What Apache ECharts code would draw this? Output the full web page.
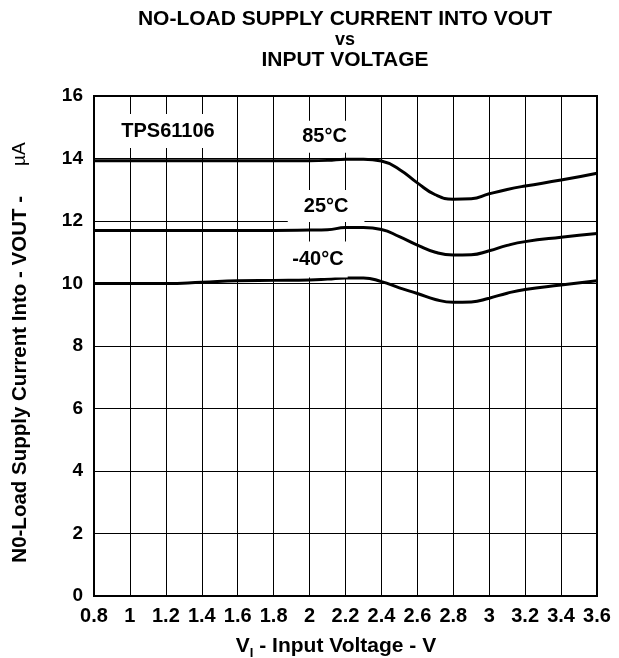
<!DOCTYPE html>
<html>
<head>
<meta charset="utf-8">
<script src="https://cdn.jsdelivr.net/npm/echarts@6/dist/echarts.min.js"></script>
<style>
html,body{margin:0;padding:0;background:#fff;}
#c{width:619px;height:658px;}
</style>
</head>
<body>
<div id="c"></div>
<script>
// Input voltage (V)
var inputVoltage = [0.8,1.0,1.2,1.4,1.6,1.8,2.0,2.1,2.2,2.3,2.4,2.5,2.6,2.7,2.8,2.9,3.0,3.1,3.2,3.4,3.6];
// Supply current (uA)
var current85C  = [13.93,13.93,13.93,13.93,13.93,13.93,13.93,13.94,13.98,13.98,13.92,13.65,13.22,12.84,12.70,12.71,12.87,13.01,13.12,13.31,13.53];
var current25C  = [11.70,11.70,11.70,11.70,11.70,11.70,11.71,11.72,11.79,11.79,11.73,11.50,11.23,11.00,10.91,10.92,11.05,11.22,11.34,11.48,11.60];
var currentM40C = [10.00,10.00,10.00,10.04,10.09,10.10,10.11,10.14,10.18,10.18,10.06,9.86,9.68,9.49,9.40,9.41,9.53,9.69,9.81,9.95,10.09];

var seriesNames = ['85°C','25°C','-40°C'];
var deviceName = 'TPS61106';
var titleLines = ['NO-LOAD SUPPLY CURRENT INTO VOUT','vs','INPUT VOLTAGE'];
var xAxisTitle = ['V','I',' - Input Voltage - V'];
var yAxisTitle = ['N0-Load Supply Current Into - VOUT -','µA'];

function pairs(ys){ return inputVoltage.map(function(x,i){return [x, ys[i]];}); }

var FONT = '"Liberation Sans", Arial, sans-serif';
var labelStyle = {show:true, position:'inside', color:'#000', fontFamily:FONT, fontWeight:'bold', fontSize:20, backgroundColor:'#fff'};

function lineSeries(name, data, mark){
  return {
    name:name, type:'line', data:pairs(data), smooth:0.5, symbol:'none',
    lineStyle:{color:'#000', width:3}, z:3,
    markPoint: mark ? {symbol:'rect', symbolSize:1, itemStyle:{color:'rgba(0,0,0,0)'}, data: mark, z:5} : undefined
  };
}

var chart = echarts.init(document.getElementById('c'), null, {renderer:'canvas'});
chart.setOption({
  animation:false,
  backgroundColor:'#fff',
  grid:{left:94, right:22, top:96, bottom:62, show:true, borderColor:'#000', borderWidth:2, backgroundColor:'transparent'},
  xAxis:{
    type:'value', min:0.8, max:3.6, interval:0.2,
    axisLine:{show:false}, axisTick:{show:false},
    splitLine:{show:true, lineStyle:{color:'#000', width:1}},
    axisLabel:{margin:10, color:'#000', fontFamily:FONT, fontWeight:'bold', fontSize:20,
      formatter:function(v){return String(+v.toFixed(1));}}
  },
  yAxis:{
    type:'value', min:0, max:16, interval:2,
    axisLine:{show:false}, axisTick:{show:false},
    splitLine:{show:true, lineStyle:{color:'#000', width:1}},
    axisLabel:{margin:11, color:'#000', fontFamily:FONT, fontWeight:'bold', fontSize:19}
  },
  graphic:[
    {type:'text', x:345, y:19, style:{text:titleLines[0], textAlign:'center', textVerticalAlign:'middle', font:'bold 21px '+FONT, fill:'#000'}},
    {type:'text', x:345, y:40, style:{text:titleLines[1], textAlign:'center', textVerticalAlign:'middle', font:'bold 18px '+FONT, fill:'#000'}},
    {type:'text', x:345, y:60, style:{text:titleLines[2], textAlign:'center', textVerticalAlign:'middle', font:'bold 21px '+FONT, fill:'#000'}},
    {type:'text', x:336, y:646, style:{
      text:'{v|'+xAxisTitle[0]+'}{s|'+xAxisTitle[1]+'}{t|'+xAxisTitle[2]+'}',
      textAlign:'center', textVerticalAlign:'middle',
      rich:{
        v:{fontFamily:FONT, fontWeight:'bold', fontSize:21, fill:'#000', color:'#000', lineHeight:28, verticalAlign:'middle'},
        s:{fontFamily:FONT, fontWeight:'bold', fontSize:13, fill:'#000', color:'#000', lineHeight:28, verticalAlign:'bottom'},
        t:{fontFamily:FONT, fontWeight:'bold', fontSize:21, fill:'#000', color:'#000', lineHeight:28, verticalAlign:'middle'}
      }}},
    {type:'text', x:20, y:352.5, rotation:Math.PI/2, style:{
      text:'{b|'+yAxisTitle[0]+'}{m|'+yAxisTitle[1]+'}',
      textAlign:'center', textVerticalAlign:'middle',
      rich:{
        b:{fontFamily:FONT, fontWeight:'bold', fontSize:20.5, fill:'#000', color:'#000'},
        m:{fontFamily:FONT, fontWeight:'normal', fontSize:19, fill:'#000', color:'#000', padding:[0,0,0,30]}
      }}}
  ],
  series:[
    lineSeries(seriesNames[0], current85C, [
      {coord:[1.212,14.88], label:Object.assign({}, labelStyle, {formatter:deviceName, padding:[7,10]})},
      {coord:[2.083,14.70], label:Object.assign({}, labelStyle, {formatter:seriesNames[0], padding:[6,6]})}
    ]),
    lineSeries(seriesNames[1], current25C, [
      {coord:[2.092,12.48], label:Object.assign({}, labelStyle, {formatter:seriesNames[1], padding:[6,16]})}
    ]),
    lineSeries(seriesNames[2], currentM40C, [
      {coord:[2.047,10.77], label:Object.assign({}, labelStyle, {formatter:seriesNames[2], padding:[8,4]})}
    ])
  ]
});
</script>
</body>
</html>
